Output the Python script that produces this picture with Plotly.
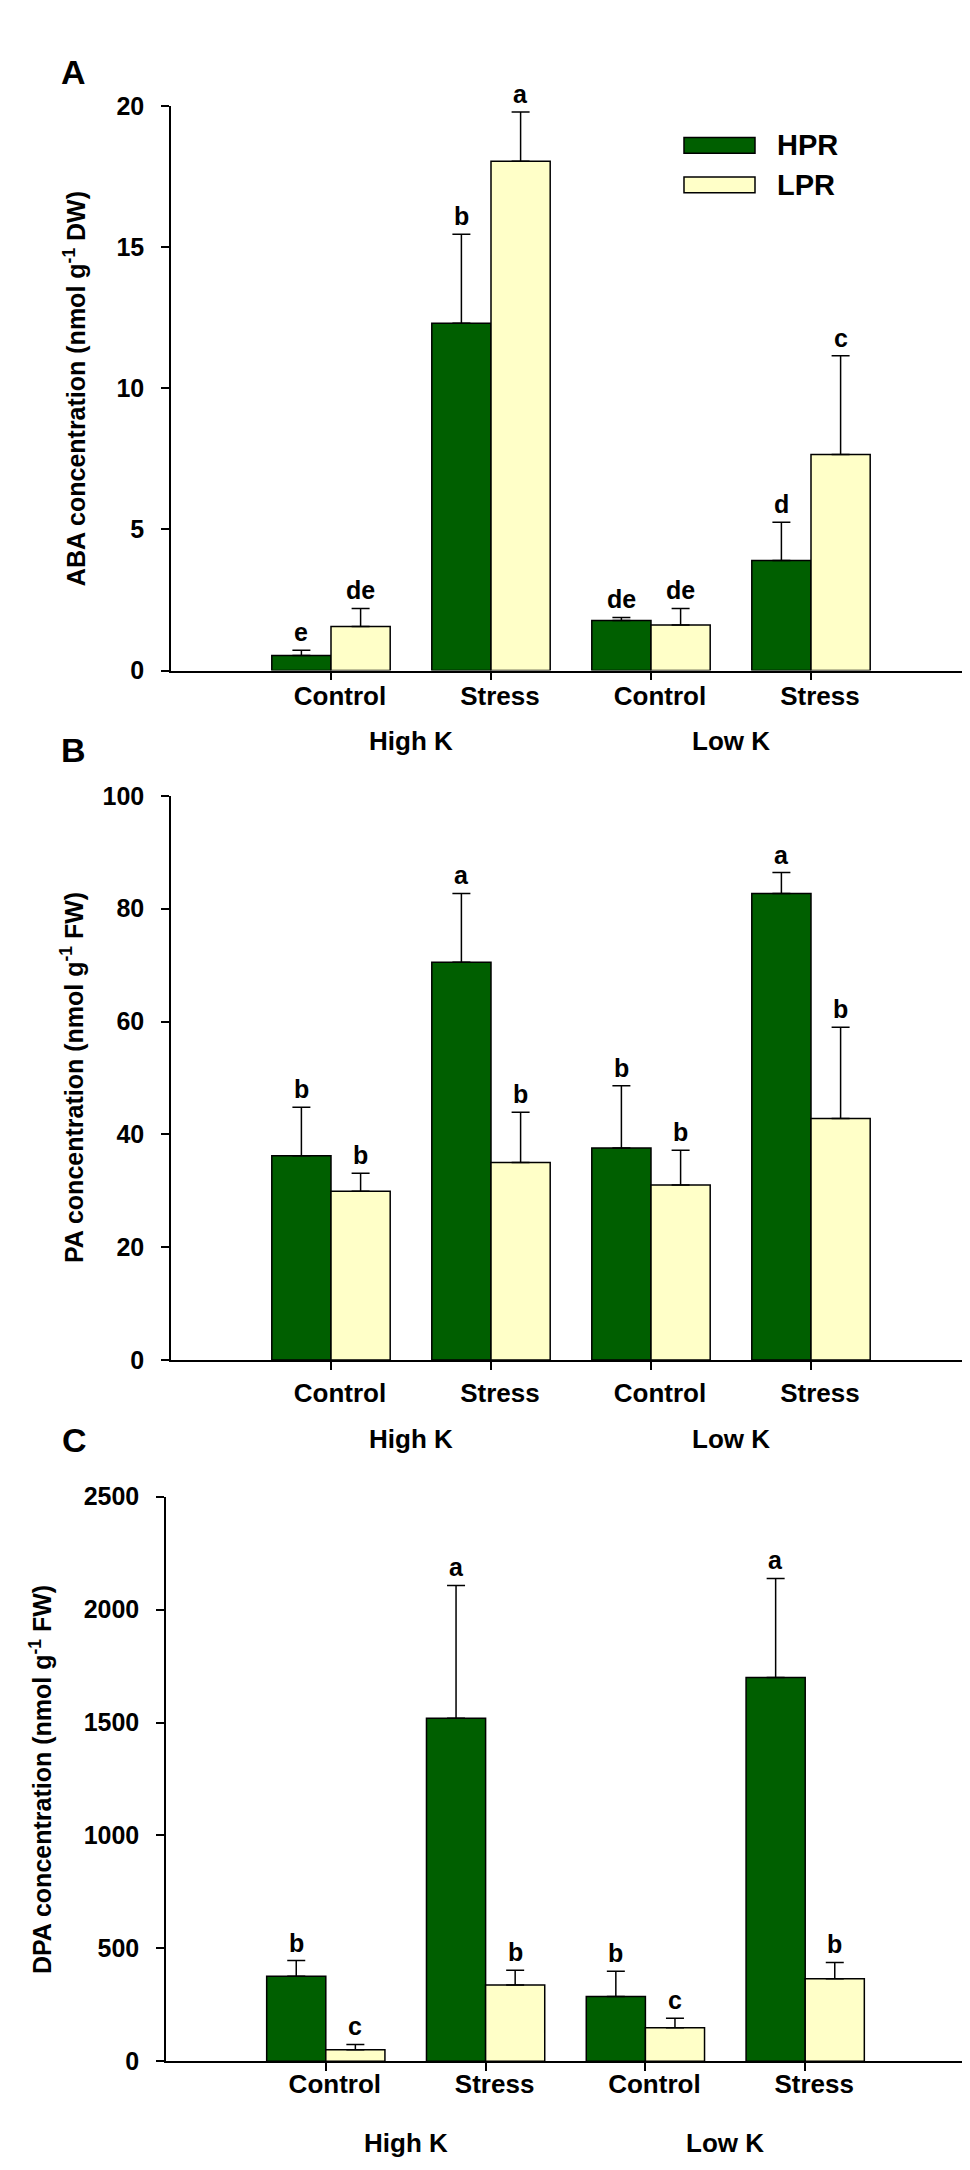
import plotly.graph_objects as go

# treatment categories along each x axis, grouped by K supply
categories = ['Control', 'Stress', 'Control', 'Stress']
groups = ['High K', 'Low K']
positions = [1, 2, 3, 4]

# panel A - ABA (nmol g-1 DW)
aba_hpr = [0.53, 12.3, 1.77, 3.9]
aba_hpr_err = [0.19, 3.15, 0.11, 1.35]
aba_lpr = [1.56, 18.04, 1.61, 7.65]
aba_lpr_err = [0.64, 1.74, 0.59, 3.5]
aba_hpr_sig = ['e', 'b', 'de', 'd']
aba_lpr_sig = ['de', 'a', 'de', 'c']

# panel B - PA (nmol g-1 FW)
pa_hpr = [36.2, 70.5, 37.6, 82.7]
pa_hpr_err = [8.6, 12.2, 11.0, 3.7]
pa_lpr = [29.9, 35.0, 31.0, 42.8]
pa_lpr_err = [3.2, 8.9, 6.2, 16.2]
pa_hpr_sig = ['b', 'a', 'b', 'a']
pa_lpr_sig = ['b', 'b', 'b', 'b']

# panel C - DPA (nmol g-1 FW)
dpa_hpr = [377, 1519, 287, 1700]
dpa_hpr_err = [69, 588, 112, 438]
dpa_lpr = [51, 338, 149, 366]
dpa_lpr_err = [24, 65, 42, 72]
dpa_hpr_sig = ['b', 'a', 'b', 'a']
dpa_lpr_sig = ['c', 'b', 'c', 'b']

hpr_color = '#005f00'
lpr_color = '#ffffc8'
font_family = 'Liberation Sans, Arial, sans-serif'
bar_w = 0.37

panels = [
    dict(letter='A', title='ABA concentration (nmol g<sup>-1</sup> DW)',
         hpr=aba_hpr, hpr_err=aba_hpr_err, lpr=aba_lpr, lpr_err=aba_lpr_err,
         hpr_sig=aba_hpr_sig, lpr_sig=aba_lpr_sig,
         yrange=[0, 20], dtick=5, ydom=[0.69724, 0.96083], xdom=[0.16804, 0.99278],
         letter_xy=(0.068, 0.9765), title_x=0.069, group_y=0.6641, standoff=-6),
    dict(letter='B', title='PA concentration (nmol g<sup>-1</sup> FW)',
         hpr=pa_hpr, hpr_err=pa_hpr_err, lpr=pa_lpr, lpr_err=pa_lpr_err,
         hpr_sig=pa_hpr_sig, lpr_sig=pa_lpr_sig,
         yrange=[0, 100], dtick=20, ydom=[0.37535, 0.63871], xdom=[0.16804, 0.99278],
         letter_xy=(0.068, 0.6599), title_x=0.066, group_y=0.3387, standoff=1),
    dict(letter='C', title='DPA concentration (nmol g<sup>-1</sup> FW)',
         hpr=dpa_hpr, hpr_err=dpa_hpr_err, lpr=dpa_lpr, lpr_err=dpa_lpr_err,
         hpr_sig=dpa_hpr_sig, lpr_sig=dpa_lpr_sig,
         yrange=[0, 2500], dtick=500, ydom=[0.04793, 0.31152], xdom=[0.16289, 0.98660],
         letter_xy=(0.069, 0.3378), title_x=0.034, group_y=0.0097, standoff=-9),
]

fig = go.Figure()
annotations = []
bold = dict(family=font_family, color='black', weight='bold')

for n, p in enumerate(panels):
    sfx = '' if n == 0 else str(n + 1)
    xref, yref = 'x' + sfx, 'y' + sfx

    for vals, errs, color, name, off in [
        (p['hpr'], p['hpr_err'], hpr_color, 'HPR', -bar_w),
        (p['lpr'], p['lpr_err'], lpr_color, 'LPR', 0),
    ]:
        fig.add_trace(go.Bar(
            x=positions, y=vals, width=bar_w, offset=off, name=name,
            marker=dict(color=color, line=dict(color='black', width=1.5)),
            error_y=dict(type='data', array=errs, arrayminus=[0] * len(errs),
                         symmetric=False, color='black', thickness=1.5, width=9),
            xaxis=xref, yaxis=yref, showlegend=False,
        ))

    # significance letters above the error bars
    for sigs, vals, errs, shift in [
        (p['hpr_sig'], p['hpr'], p['hpr_err'], -bar_w / 2),
        (p['lpr_sig'], p['lpr'], p['lpr_err'], bar_w / 2),
    ]:
        for pos, s, v, e in zip(positions, sigs, vals, errs):
            annotations.append(dict(
                x=pos + shift, y=v + e, xref=xref, yref=yref, text=s,
                showarrow=False, yanchor='bottom', yshift=2,
                font=dict(size=25, **bold)))

    # K supply group labels
    for gx, g in zip([1.5, 3.5], groups):
        annotations.append(dict(
            x=gx, y=p['group_y'], xref=xref, yref='paper', text=g,
            showarrow=False, yanchor='middle', font=dict(size=26, **bold)))

    # panel letter
    annotations.append(dict(
        x=p['letter_xy'][0], y=p['letter_xy'][1], xref='paper', yref='paper',
        text=p['letter'], showarrow=False, xanchor='center', yanchor='middle',
        font=dict(size=34, **bold)))

    # y axis title
    annotations.append(dict(
        x=p['title_x'], y=sum(p['ydom']) / 2, xref='paper', yref='paper',
        text=p['title'], textangle=-90, showarrow=False,
        xanchor='center', yanchor='middle', font=dict(size=25, **bold)))

    fig.update_layout({
        'xaxis' + sfx: dict(
            domain=p['xdom'], anchor=yref, range=[0, 5],
            tickmode='array', tickvals=positions, ticktext=categories,
            ticks='outside', ticklen=8, tickwidth=1.5, tickcolor='black',
            showline=True, linecolor='black', linewidth=1.5,
            showgrid=False, zeroline=False,
            ticklabelstandoff=p['standoff'], ticklabelshift=9,
            tickfont=dict(size=26, **bold)),
        'yaxis' + sfx: dict(
            domain=p['ydom'], anchor=xref, range=p['yrange'], dtick=p['dtick'],
            ticks='outside', ticklen=8, tickwidth=1.5, tickcolor='black',
            showline=True, linecolor='black', linewidth=1.5,
            showgrid=False, zeroline=False, ticklabelstandoff=12,
            tickfont=dict(size=25, **bold)),
    })

# legend key drawn as boxes beside the labels
legend_items = [('HPR', hpr_color, 0.94608, 0.93871), ('LPR', lpr_color, 0.92765, 0.92028)]
shapes = []
for name, color, y1, y0 in legend_items:
    shapes.append(dict(type='rect', xref='paper', yref='paper',
                       x0=0.6969, x1=0.7701, y0=y0, y1=y1,
                       fillcolor=color, line=dict(color='black', width=1.5)))
    annotations.append(dict(x=0.7907, y=(y0 + y1) / 2, xref='paper', yref='paper',
                            text=name, showarrow=False, xanchor='left', yanchor='middle',
                            font=dict(size=29, **bold)))

fig.update_layout(
    width=970, height=2170,
    margin=dict(l=0, r=0, t=0, b=0),
    plot_bgcolor='white', paper_bgcolor='white',
    font=dict(family=font_family, color='black'),
    barmode='overlay',
    annotations=annotations,
    shapes=shapes,
    showlegend=False,
)

fig.write_html("out.html")
